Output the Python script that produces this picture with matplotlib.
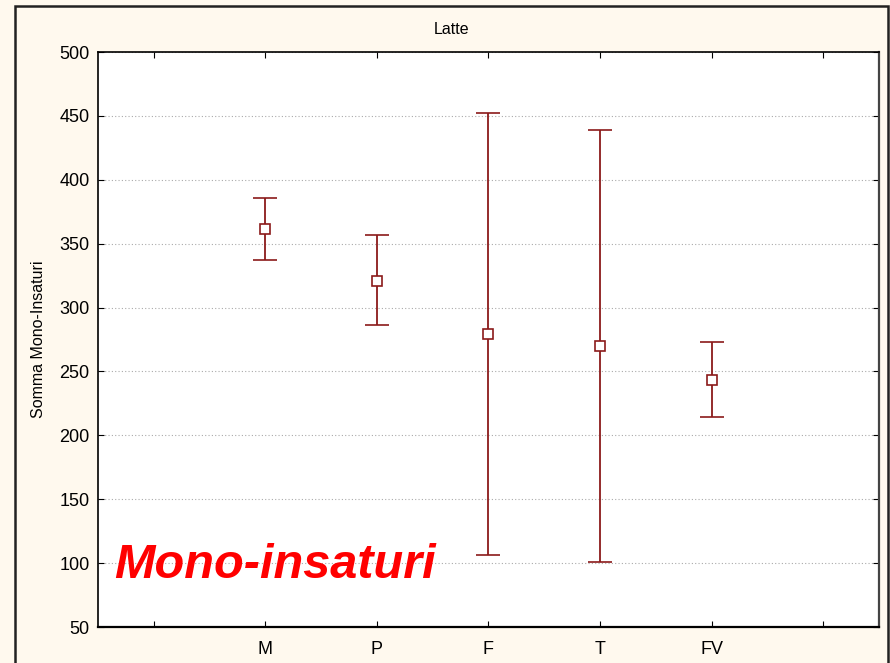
import numpy as np
import matplotlib.pyplot as plt
from matplotlib.patches import Rectangle

plt.rcParams["font.family"] = ["Liberation Sans", "DejaVu Sans"]

# data
groups = ["M", "P", "F", "T", "FV"]
means = [361.5, 321.0, 279.5, 270.0, 243.0]
upper = [386.0, 357.0, 452.5, 439.0, 273.0]
lower = [337.5, 286.0, 106.5, 100.5, 214.5]
y_ticks = [50, 100, 150, 200, 250, 300, 350, 400, 450, 500]

RED = "#8b1a1a"
BG = "#fff9ee"

fig = plt.figure(figsize=(8.9, 6.63), dpi=100, facecolor=BG)
ax = fig.add_axes([98 / 890, 1 - 627 / 663, 781 / 890, 575 / 663])
ax.set_facecolor("white")

# outer frame around the whole chart
fig.patches.append(Rectangle((15 / 890, -0.05), 873 / 890, 1 - 6 / 663 + 0.05,
                             transform=fig.transFigure, fill=False,
                             edgecolor="#222222", linewidth=1.8))

x = np.arange(1, len(groups) + 1)
m = np.array(means)
yerr = np.vstack([m - np.array(lower), np.array(upper) - m])
ax.errorbar(x, m, yerr=yerr, fmt="s", color=RED, ecolor=RED, elinewidth=1.3,
            capsize=8.3, capthick=1.3, markersize=6.5, markerfacecolor="white",
            markeredgecolor=RED, markeredgewidth=1.2, zorder=3)

ax.set_xlim(-0.5, 6.5)
ax.set_ylim(50, 500)
ax.set_xticks(np.arange(0, 7))
ax.set_xticklabels([""] + groups + [""])
ax.set_yticks(y_ticks)
ax.tick_params(axis="both", direction="in", length=4, labelsize=13,
               top=True, right=True, pad=6)
ax.tick_params(axis="x", pad=10)
ax.grid(axis="y", linestyle=(0, (1, 2)), color="#aaaaaa", linewidth=0.8)
for s in ["left", "top"]:
    ax.spines[s].set_linewidth(1.2)
for s in ["right", "bottom"]:
    ax.spines[s].set_linewidth(1.6)
ax.spines["right"].set_color("#444444")

ax.set_ylabel("Somma Mono-Insaturi", fontsize=11.5, labelpad=10)
fig.text(452 / 890, 1 - 30 / 663, "Latte", ha="center", va="center", fontsize=11.5)

fig.text(114 / 890, 1 - 578 / 663, "Mono-insaturi", color="#ff0000",
         fontsize=35, fontweight="bold", fontstyle="italic", va="baseline")

fig.savefig("out.png", dpi=100, facecolor=BG)
